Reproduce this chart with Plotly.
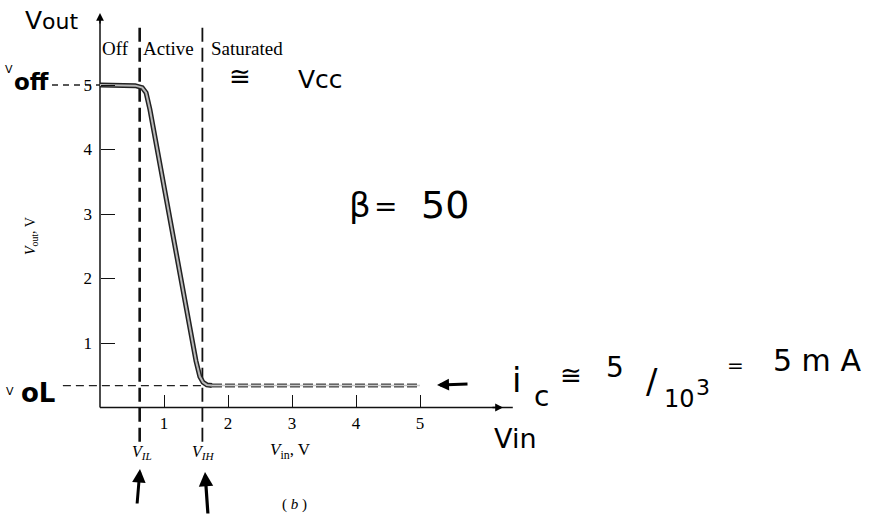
import plotly.graph_objects as go

# Transfer characteristic of the inverter
vin = [0.0, 0.3, 0.55, 0.66, 0.72, 0.78, 0.9, 1.1, 1.3, 1.5, 1.56, 1.61, 1.67, 1.75]
vout = [5.0, 5.0, 4.99, 4.96, 4.88, 4.62, 3.96, 2.88, 1.80, 0.72, 0.48, 0.39, 0.35, 0.34]
vin_sat = [1.75, 2.0, 3.0, 4.0, 5.0]
vout_sat = [0.34, 0.34, 0.34, 0.34, 0.34]

v_il = 0.62
v_ih = 1.6
v_oh = 5.0
v_ol = 0.34

x_ticks = [1, 2, 3, 4, 5]
y_ticks = [1, 2, 3, 4, 5]
regions = ["Off", "Active", "Saturated"]

W, H = 882, 515
# the whole canvas is the plotting area; 64 px per volt on x, 64.5 px per volt on y
XR = [-100 / 64, (W - 100) / 64]
YR = [-(H - 407.5) / 64.5, 407.5 / 64.5]

SERIF = "Liberation Serif"
HAND = "DejaVu Sans"


def paper(xp, yp):
    return xp / W, 1 - yp / H


fig = go.Figure()

# axis lines
fig.add_trace(go.Scatter(x=[0, 0], y=[0, 6.08], mode="lines",
                         line=dict(color="#111", width=1.5), hoverinfo="skip"))
fig.add_trace(go.Scatter(x=[0, 6.45], y=[0, 0], mode="lines",
                         line=dict(color="#111", width=1.5), hoverinfo="skip"))

# guide dashes for V_OH and V_OL
fig.add_trace(go.Scatter(x=[-0.75, 0], y=[v_oh, v_oh], mode="lines",
                         line=dict(color="#222", width=1.3, dash="6px,5px"), hoverinfo="skip"))
fig.add_trace(go.Scatter(x=[-0.58, v_ih], y=[v_ol, v_ol], mode="lines",
                         line=dict(color="#222", width=1.3, dash="8px,5px"), hoverinfo="skip"))

# region boundaries V_IL and V_IH
fig.add_trace(go.Scatter(x=[v_il, v_il], y=[-0.53, 5.93], mode="lines",
                         line=dict(color="#111", width=2.6, dash="14px,6px"), hoverinfo="skip"))
fig.add_trace(go.Scatter(x=[v_ih, v_ih], y=[-0.53, 5.96], mode="lines",
                         line=dict(color="#111", width=1.8, dash="14px,6px"), hoverinfo="skip"))

# curve: dark outline with lighter core
fig.add_trace(go.Scatter(x=vin, y=vout, mode="lines",
                         line=dict(color="#222", width=5), hoverinfo="skip"))
fig.add_trace(go.Scatter(x=vin, y=vout, mode="lines",
                         line=dict(color="#b8b8b8", width=2), hoverinfo="skip"))
fig.add_trace(go.Scatter(x=vin_sat, y=vout_sat, mode="lines",
                         line=dict(color="#444", width=4, dash="10px,3px"), hoverinfo="skip"))
fig.add_trace(go.Scatter(x=vin_sat, y=vout_sat, mode="lines",
                         line=dict(color="#c8c8c8", width=1.5), hoverinfo="skip"))

ann = []


def text(xp, yp, s, size, family=SERIF, **kw):
    x, y = paper(xp, yp)
    ann.append(dict(x=x, y=y, xref="paper", yref="paper", text=s, showarrow=False,
                    font=dict(family=family, size=size, color="#000"),
                    xanchor="center", yanchor="middle", **kw))


def arrow(xp, yp, ax, ay, width, head=2, size=1.0):
    x, y = paper(xp, yp)
    ann.append(dict(x=x, y=y, xref="paper", yref="paper", text="", showarrow=True,
                    ax=ax, ay=ay, arrowhead=head, arrowwidth=width, arrowsize=size,
                    arrowcolor="#000"))


# region names
text(115, 48, regions[0], 19)
text(168, 48, regions[1], 19)
text(247, 48, regions[2], 19)

# axis titles and markers
text(31, 236, "<i>V</i><sub>out</sub>, V", 14, textangle=-90)
text(142, 452, "<i>V</i><sub><i>IL</i></sub>", 16)
text(203, 452, "<i>V</i><sub><i>IH</i></sub>", 16)
text(290, 451, "<i>V</i><sub>in</sub>, V", 17)
text(294, 504, "( <i>b</i> )", 15)

# axis arrowheads
arrow(100, 13, 0, 12, 1.3, head=2, size=1.2)
arrow(503, 407.5, -12, 0, 1.3, head=2, size=1.2)

# handwritten notes
text(52, 21, "V<span style='font-size:22px'>out</span>", 25, HAND)
text(9, 70, "V", 11, HAND)
text(31, 82, "<b>off</b>", 23, HAND)
text(10, 391, "V", 11, HAND)
text(38, 393, "<b>oL</b>", 26, HAND)
text(240, 76, "≅", 26, HAND)
text(320, 80, "Vcc", 25, HAND)
text(360, 205, "β", 34, HAND)
text(385, 206, "=", 28, HAND)
text(445, 205, "50", 38, HAND)
text(515, 438, "Vin", 27, HAND)
arrow(437, 385, 32, -1, 3.0, head=2, size=0.8)
text(516, 380, "i", 34, HAND)
text(541, 396, "c", 28, HAND)
text(571, 375, "≅", 26, HAND)
text(615, 367, "5", 28, HAND)
text(652, 381, "/", 34, HAND)
text(679, 399, "10", 24, HAND)
text(703, 387, "3", 22, HAND)
text(735, 365, "=", 20, HAND)
text(817, 360, "5 m A", 30, HAND)
arrow(140, 469, -3, 36, 3.0, head=2, size=0.9)
arrow(205, 472, 3, 43, 3.2, head=2, size=0.9)

fig.update_layout(
    width=W, height=H,
    margin=dict(l=0, r=0, t=0, b=0),
    paper_bgcolor="white", plot_bgcolor="white",
    showlegend=False,
    annotations=ann,
    xaxis=dict(range=XR, showgrid=False, zeroline=False, showline=False,
               anchor="free", position=(0 - YR[0]) / (YR[1] - YR[0]),
               tickvals=x_ticks, ticktext=[str(v) for v in x_ticks],
               ticks="inside", ticklen=13, tickwidth=1.3, tickcolor="#111",
               ticklabelstandoff=3,
               tickfont=dict(family=SERIF, size=17, color="#000")),
    yaxis=dict(range=YR, showgrid=False, zeroline=False, showline=False,
               anchor="free", position=(0 - XR[0]) / (XR[1] - XR[0]),
               tickvals=y_ticks, ticktext=[str(v) for v in y_ticks],
               ticks="inside", ticklen=14, tickwidth=1.3, tickcolor="#111",
               ticklabelstandoff=8,
               tickfont=dict(family=SERIF, size=17, color="#000")),
)

fig.write_html("out.html")
